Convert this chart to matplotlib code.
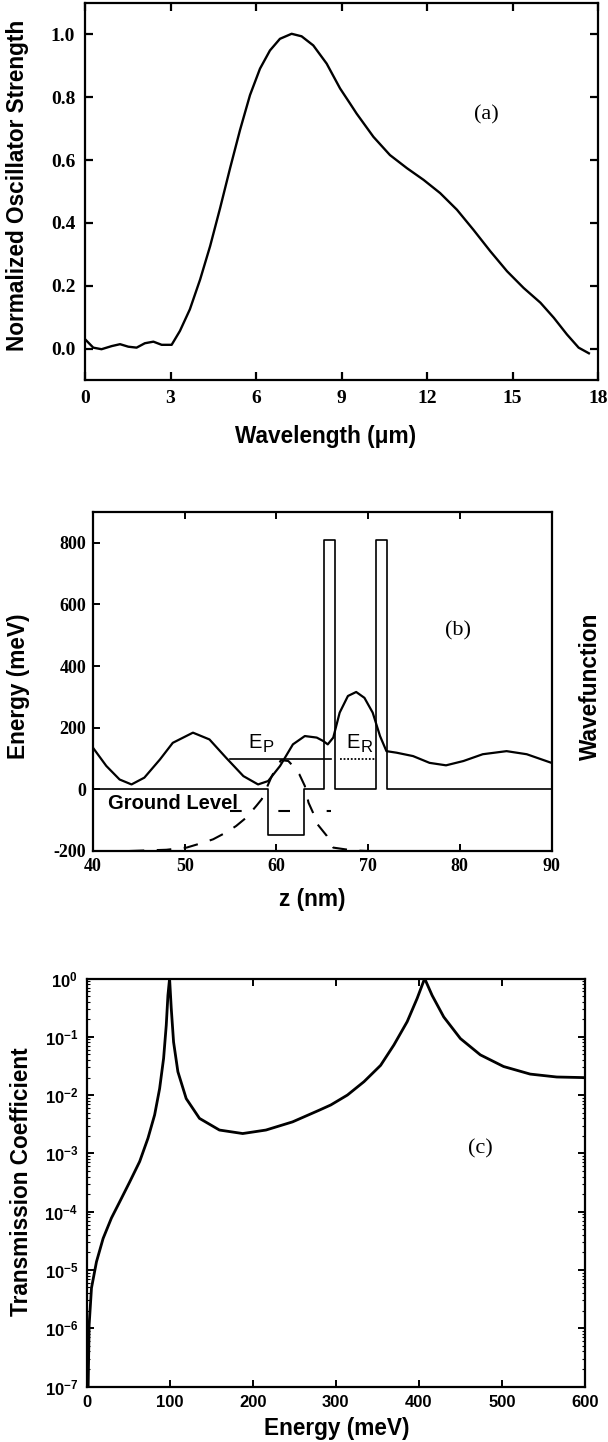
import matplotlib
matplotlib.use("Agg")
import matplotlib.pyplot as plt
from matplotlib.ticker import LogLocator, NullFormatter

SERIF = "Liberation Serif"
SANS = "Liberation Sans"
plt.rcParams["font.family"] = SANS
plt.rcParams["mathtext.fontset"] = "custom"
plt.rcParams["mathtext.rm"] = SANS
plt.rcParams["mathtext.bf"] = SANS + ":bold"
plt.rcParams["mathtext.it"] = SANS + ":italic"
plt.rcParams["lines.solid_joinstyle"] = "round"

# (a) normalized oscillator strength vs wavelength (um)
wavelength = [0.0, 0.29, 0.58, 0.94, 1.23, 1.52, 1.81, 2.1, 2.4, 2.69, 3.04, 3.33, 3.68,
              4.04, 4.39, 4.74, 5.09, 5.44, 5.79, 6.14, 6.49, 6.84, 7.25, 7.6, 8.01,
              8.48, 8.95, 9.3, 9.53, 10.12, 10.7, 11.3, 11.88, 12.46, 13.05, 13.63,
              14.22, 14.81, 15.39, 15.98, 16.45, 16.91, 17.32, 17.68]
osc_strength = [0.030, 0.003, -0.002, 0.008, 0.014, 0.006, 0.003, 0.017, 0.022, 0.012,
                0.012, 0.056, 0.125, 0.22, 0.326, 0.447, 0.574, 0.696, 0.807, 0.891,
                0.949, 0.986, 1.002, 0.994, 0.965, 0.907, 0.828, 0.78, 0.748, 0.674,
                0.616, 0.574, 0.537, 0.495, 0.442, 0.378, 0.310, 0.246, 0.193, 0.146,
                0.098, 0.045, 0.003, -0.015]

# (b) conduction band profile (meV) vs z (nm)
pot_z = [40, 59.1, 59.1, 63.0, 63.0, 65.2, 65.2, 66.4, 66.4, 70.9, 70.9, 72.1, 72.1, 90]
pot_v = [0, 0, -149, -149, 0, 0, 810, 810, 0, 0, 810, 810, 0, 0]

# excited (continuum) wavefunction, solid
wf_z = [40, 41.45, 42.9, 44.2, 45.6, 47.3, 48.7, 50.9, 52.7, 54.5, 56.4, 58.0, 59.1,
        60.4, 61.8, 63.1, 64.4, 65.1, 65.6, 66.2, 66.9, 67.8, 68.7, 69.6, 70.5, 71.3,
        72.0, 73.1, 74.9, 76.7, 78.5, 80.4, 82.5, 85.1, 87.3, 90]
wf_e = [135, 76, 32, 16, 38, 97, 151, 184, 162, 103, 43, 16, 27, 76, 146, 173, 168,
        157, 146, 168, 249, 303, 316, 297, 249, 173, 124, 119, 108, 86, 78, 92, 114,
        124, 114, 86]

# ground state wavefunction, dashed
gs_z = [44, 48, 50.2, 52, 53.1, 54.5, 55.6, 56.7, 57.8, 58.4, 59.5, 60.5, 61.3, 61.8,
        62.5, 63.1, 63.5, 64.0, 64.5, 65.5, 66.2, 67.6, 69.0, 70.0]
gs_e = [-200, -196, -189, -173, -162, -140, -119, -92, -54, -32, 43, 95, 92, 76, 49,
        11, -43, -76, -114, -151, -189, -195, -199, -200]

ep_level = 97
er_level = 97
ground_level = -70
ep_span = [54.9, 66.0]
er_span = [66.9, 70.7]
ground_span = [54.9, 66.0]

# (c) transmission coefficient vs energy (meV), log10 values
energy = [2, 3.2, 6, 12, 20, 30, 40, 52, 64, 74, 82, 88, 92.8, 96, 98, 100, 102,
          104.8, 110, 120, 136, 160, 188, 216, 248, 280, 294, 314, 334, 354, 370, 386,
          398, 407, 416, 430, 450, 474, 502, 534, 566, 598, 600]
log_transmission = [-7, -5.94, -5.31, -4.86, -4.46, -4.11, -3.83, -3.49, -3.14, -2.74,
                    -2.34, -1.89, -1.37, -0.8, -0.29, 0, -0.51, -1.09, -1.6, -2.06,
                    -2.4, -2.6, -2.66, -2.6, -2.46, -2.26, -2.17, -2.0, -1.77, -1.49,
                    -1.14, -0.74, -0.34, 0, -0.29, -0.66, -1.03, -1.31, -1.51, -1.64,
                    -1.69, -1.70, -1.70]
transmission = [10.0 ** v for v in log_transmission]

W, H = 608, 1442
fig = plt.figure(figsize=(W / 100, H / 100), dpi=100)


def place(left, top, right, bottom):
    ax = fig.add_axes([left / W, 1 - bottom / H, (right - left) / W, (bottom - top) / H])
    return ax, (left, top, right, bottom)


def to_axes(box, px, py):
    left, top, right, bottom = box
    return (px - left) / (right - left), (bottom - py) / (bottom - top)


def style(ax, lw=1.6):
    for s in ax.spines.values():
        s.set_linewidth(lw)


serif_tick = dict(fontfamily=SERIF, fontweight="bold")
label_font = dict(fontfamily=SANS, fontweight="bold", fontsize=16.3)

# ---------------- (a) ----------------
ax, box = place(85, 3, 598, 380)
style(ax)
ax.plot(wavelength, osc_strength, color="black", lw=1.7)
ax.set_xlim(0, 18)
ax.set_ylim(-0.1, 1.1)
xt = [0, 3, 6, 9, 12, 15, 18]
ax.set_xticks(xt, labels=[str(v) for v in xt], **serif_tick)
yt = [0.0, 0.2, 0.4, 0.6, 0.8, 1.0]
ax.set_yticks(yt, labels=[f"{v:.1f}" for v in yt], **serif_tick)
ax.tick_params(direction="in", top=True, right=True, length=6, width=1.6, labelsize=14, pad=7)
ax.set_xlabel("Wavelength (\u03bcm)", va="center", **label_font)
ax.xaxis.set_label_coords(*to_axes(box, 326, 437))
ax.set_ylabel("Normalized Oscillator Strength", va="center", **label_font)
ax.yaxis.set_label_coords(*to_axes(box, 18, 185))
ax.text(14.1, 0.743, "(a)", fontfamily=SERIF, fontsize=16, ha="center", va="center")

# ---------------- (b) ----------------
ax, box = place(93, 512, 551.5, 851)
style(ax)
ax.plot(pot_z, pot_v, color="black", lw=1.2)
ax.plot(wf_z, wf_e, color="black", lw=1.6)
ax.plot(gs_z, gs_e, color="black", lw=1.5, linestyle=(0, (7.0, 6.0)))
ax.plot(ep_span, [ep_level, ep_level], color="black", lw=1.2)
ax.plot(er_span, [er_level, er_level], color="black", lw=1.3, linestyle=(0, (1, 1)))
ax.plot(ground_span, [ground_level, ground_level], color="black", lw=1.5,
        linestyle=(0, (5.6, 17.6)))
ax.set_xlim(40, 90)
ax.set_ylim(-200, 900)
xt = [40, 50, 60, 70, 80, 90]
ax.set_xticks(xt, labels=[str(v) for v in xt], **serif_tick)
yt = [-200, 0, 200, 400, 600, 800]
ax.set_yticks(yt, labels=[str(v) for v in yt], **serif_tick)
ax.tick_params(direction="in", top=True, right=False, length=5, width=1.4, labelsize=13, pad=5)
ax.set_xlabel("z (nm)", va="center", **label_font)
ax.xaxis.set_label_coords(*to_axes(box, 312, 900))
ax.set_ylabel("Energy (meV)", va="center", **label_font)
ax.yaxis.set_label_coords(*to_axes(box, 19, 686))
ax.text(*to_axes(box, 590, 686), "Wavefunction", transform=ax.transAxes, rotation=90,
        ha="center", va="center", **label_font)
for z0, sub in [(56.9, "P"), (67.6, "R")]:
    ax.text(z0, 135, "E", fontsize=14.5, ha="left", va="baseline")
    ax.text(z0 + 1.55, 122, sub, fontsize=12, ha="left", va="baseline")
ax.text(41.6, -63, "Ground Level", fontsize=14.5, fontweight="bold", ha="left", va="baseline")
ax.text(79.8, 513, "(b)", fontfamily=SERIF, fontsize=16, ha="center", va="center")

# ---------------- (c) ----------------
ax, box = place(86.5, 978.5, 585, 1386.5)
style(ax)
ax.plot(energy, transmission, color="black", lw=2.0)
ax.set_yscale("log")
ax.set_xlim(0, 600)
ax.set_ylim(1e-7, 1)
xt = [0, 100, 200, 300, 400, 500, 600]
ax.set_xticks(xt, labels=[str(v) for v in xt], fontweight="bold")
yt = [10.0 ** k for k in range(-7, 1)]
ax.set_yticks(yt, labels=[r"$\mathbf{10^{%d}}$" % k for k in range(-7, 1)])
ax.yaxis.set_minor_locator(LogLocator(base=10, subs=range(2, 10), numticks=20))
ax.yaxis.set_minor_formatter(NullFormatter())
ax.tick_params(which="major", direction="in", top=True, right=True, length=5, width=1.4,
               labelsize=12, pad=6)
ax.tick_params(which="minor", direction="in", right=True, length=2, width=0.8)
ax.set_xlabel("Energy (meV)", va="center", **label_font)
ax.xaxis.set_label_coords(*to_axes(box, 337, 1429))
ax.set_ylabel("Transmission Coefficient", va="center", **label_font)
ax.yaxis.set_label_coords(*to_axes(box, 22, 1182))
ax.text(474, 1.2e-3, "(c)", fontfamily=SERIF, fontsize=16, ha="center", va="center")

fig.savefig("out.png", dpi=100)
